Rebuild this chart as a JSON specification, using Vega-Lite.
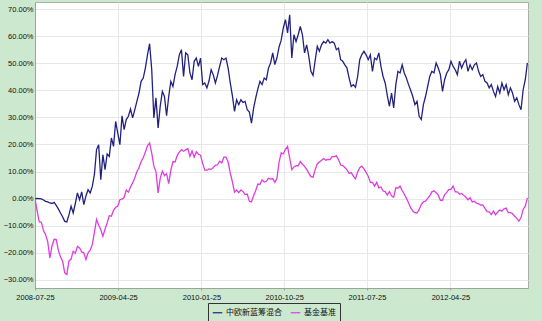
{
  "$schema": "https://vega.github.io/schema/vega-lite/v6.json",
  "width": 493,
  "height": 286,
  "autosize": "none",
  "padding": {"left": 35, "top": 2, "right": 14, "bottom": 33},
  "background": "#CCE8CF",
  "config": {
    "view": {"fill": "#FFFFFF", "stroke": "#A8B0A8", "strokeWidth": 1},
    "font": "Liberation Sans",
    "axis": {"labelFont": "Liberation Sans", "labelColor": "#111111", "labelFontSize": 7.5, "gridColor": "#E8E8E8", "gridWidth": 1, "domainColor": "#9AA69A", "tickColor": "#9AA69A"}
  },
  "data": {"values": [
    {"d":"2008-07-25","fund":0.0,"bench":0.0},
    {"d":"2008-08-01","fund":0.1,"bench":-4.5},
    {"d":"2008-08-08","fund":0.0,"bench":-8.5},
    {"d":"2008-08-15","fund":-0.1,"bench":-8.7},
    {"d":"2008-08-22","fund":-0.5,"bench":-11.8},
    {"d":"2008-08-29","fund":-1.0,"bench":-13.3},
    {"d":"2008-09-05","fund":-1.2,"bench":-16.0},
    {"d":"2008-09-12","fund":-1.6,"bench":-21.9},
    {"d":"2008-09-19","fund":-1.8,"bench":-17.5},
    {"d":"2008-09-26","fund":-1.4,"bench":-15.0},
    {"d":"2008-10-03","fund":-2.5,"bench":-15.1},
    {"d":"2008-10-10","fund":-3.8,"bench":-19.0},
    {"d":"2008-10-17","fund":-5.3,"bench":-21.5},
    {"d":"2008-10-24","fund":-6.7,"bench":-23.0},
    {"d":"2008-10-31","fund":-8.4,"bench":-27.4},
    {"d":"2008-11-07","fund":-8.6,"bench":-28.0},
    {"d":"2008-11-14","fund":-6.0,"bench":-23.0},
    {"d":"2008-11-21","fund":-2.8,"bench":-22.3},
    {"d":"2008-11-28","fund":-5.3,"bench":-19.4},
    {"d":"2008-12-05","fund":-1.8,"bench":-20.2},
    {"d":"2008-12-12","fund":2.1,"bench":-17.6},
    {"d":"2008-12-19","fund":-0.4,"bench":-18.2},
    {"d":"2008-12-26","fund":2.5,"bench":-19.7},
    {"d":"2009-01-02","fund":-2.2,"bench":-20.0},
    {"d":"2009-01-09","fund":1.0,"bench":-22.5},
    {"d":"2009-01-16","fund":3.3,"bench":-20.0},
    {"d":"2009-01-23","fund":2.1,"bench":-19.0},
    {"d":"2009-01-30","fund":4.5,"bench":-17.0},
    {"d":"2009-02-06","fund":9.0,"bench":-12.5},
    {"d":"2009-02-13","fund":18.1,"bench":-7.7},
    {"d":"2009-02-20","fund":19.9,"bench":-9.7},
    {"d":"2009-02-27","fund":7.0,"bench":-11.5},
    {"d":"2009-03-06","fund":16.2,"bench":-13.9},
    {"d":"2009-03-13","fund":10.7,"bench":-11.2},
    {"d":"2009-03-20","fund":16.5,"bench":-9.0},
    {"d":"2009-03-27","fund":15.6,"bench":-6.3},
    {"d":"2009-04-03","fund":22.4,"bench":-6.5},
    {"d":"2009-04-10","fund":19.3,"bench":-4.3},
    {"d":"2009-04-17","fund":28.5,"bench":-3.2},
    {"d":"2009-04-24","fund":24.2,"bench":-2.8},
    {"d":"2009-05-01","fund":19.9,"bench":-0.4},
    {"d":"2009-05-08","fund":30.6,"bench":-0.2},
    {"d":"2009-05-15","fund":25.5,"bench":0.4},
    {"d":"2009-05-22","fund":29.2,"bench":3.2},
    {"d":"2009-05-29","fund":30.4,"bench":2.4},
    {"d":"2009-06-05","fund":33.1,"bench":4.3},
    {"d":"2009-06-12","fund":29.8,"bench":5.8},
    {"d":"2009-06-19","fund":32.8,"bench":7.6},
    {"d":"2009-06-26","fund":35.9,"bench":9.9},
    {"d":"2009-07-03","fund":39.0,"bench":11.5},
    {"d":"2009-07-10","fund":43.3,"bench":13.6},
    {"d":"2009-07-17","fund":44.5,"bench":15.1},
    {"d":"2009-07-24","fund":48.2,"bench":17.2},
    {"d":"2009-07-31","fund":53.1,"bench":19.5},
    {"d":"2009-08-07","fund":57.2,"bench":20.5},
    {"d":"2009-08-14","fund":47.6,"bench":16.8},
    {"d":"2009-08-21","fund":29.8,"bench":12.0},
    {"d":"2009-08-28","fund":37.2,"bench":10.0},
    {"d":"2009-09-04","fund":26.1,"bench":2.1},
    {"d":"2009-09-11","fund":34.1,"bench":7.5},
    {"d":"2009-09-18","fund":39.6,"bench":10.2},
    {"d":"2009-09-25","fund":37.7,"bench":8.5},
    {"d":"2009-10-02","fund":30.6,"bench":9.2},
    {"d":"2009-10-09","fund":37.7,"bench":5.5},
    {"d":"2009-10-16","fund":43.3,"bench":10.5},
    {"d":"2009-10-23","fund":41.4,"bench":13.7},
    {"d":"2009-10-30","fund":45.8,"bench":13.5},
    {"d":"2009-11-06","fund":48.8,"bench":15.9},
    {"d":"2009-11-13","fund":53.1,"bench":17.2},
    {"d":"2009-11-20","fund":55.0,"bench":18.1},
    {"d":"2009-11-27","fund":45.1,"bench":17.5},
    {"d":"2009-12-04","fund":53.8,"bench":18.0},
    {"d":"2009-12-11","fund":53.1,"bench":18.5},
    {"d":"2009-12-18","fund":46.4,"bench":15.6},
    {"d":"2009-12-25","fund":43.9,"bench":17.6},
    {"d":"2010-01-01","fund":50.7,"bench":15.3},
    {"d":"2010-01-08","fund":51.9,"bench":17.3},
    {"d":"2010-01-15","fund":48.8,"bench":16.4},
    {"d":"2010-01-22","fund":51.9,"bench":16.0},
    {"d":"2010-01-29","fund":42.1,"bench":13.0},
    {"d":"2010-02-05","fund":42.7,"bench":10.5},
    {"d":"2010-02-12","fund":40.9,"bench":10.5},
    {"d":"2010-02-19","fund":43.5,"bench":11.0},
    {"d":"2010-02-26","fund":47.6,"bench":10.8},
    {"d":"2010-03-05","fund":45.7,"bench":11.5},
    {"d":"2010-03-12","fund":42.7,"bench":12.3},
    {"d":"2010-03-19","fund":45.5,"bench":12.5},
    {"d":"2010-03-26","fund":48.8,"bench":13.8},
    {"d":"2010-04-02","fund":51.9,"bench":13.2},
    {"d":"2010-04-09","fund":51.3,"bench":15.3},
    {"d":"2010-04-16","fund":51.9,"bench":15.3},
    {"d":"2010-04-23","fund":48.2,"bench":13.5},
    {"d":"2010-04-30","fund":42.7,"bench":9.5},
    {"d":"2010-05-07","fund":38.0,"bench":6.2},
    {"d":"2010-05-14","fund":32.2,"bench":2.4},
    {"d":"2010-05-21","fund":36.5,"bench":3.2},
    {"d":"2010-05-28","fund":34.7,"bench":2.2},
    {"d":"2010-06-04","fund":36.5,"bench":3.2},
    {"d":"2010-06-11","fund":35.5,"bench":2.6},
    {"d":"2010-06-18","fund":35.9,"bench":1.5},
    {"d":"2010-06-25","fund":32.8,"bench":1.7},
    {"d":"2010-07-02","fund":32.0,"bench":-1.0},
    {"d":"2010-07-09","fund":27.9,"bench":-1.2},
    {"d":"2010-07-16","fund":33.4,"bench":1.1},
    {"d":"2010-07-23","fund":37.2,"bench":3.0},
    {"d":"2010-07-30","fund":40.5,"bench":5.4},
    {"d":"2010-08-06","fund":43.3,"bench":5.3},
    {"d":"2010-08-13","fund":42.1,"bench":6.9},
    {"d":"2010-08-20","fund":44.5,"bench":6.1},
    {"d":"2010-08-27","fund":43.9,"bench":6.4},
    {"d":"2010-09-03","fund":48.2,"bench":7.5},
    {"d":"2010-09-10","fund":50.1,"bench":7.2},
    {"d":"2010-09-17","fund":53.8,"bench":7.4},
    {"d":"2010-09-24","fund":49.5,"bench":6.0},
    {"d":"2010-10-01","fund":52.0,"bench":7.5},
    {"d":"2010-10-08","fund":56.0,"bench":13.5},
    {"d":"2010-10-15","fund":58.5,"bench":16.9},
    {"d":"2010-10-22","fund":63.0,"bench":16.5},
    {"d":"2010-10-29","fund":66.1,"bench":18.2},
    {"d":"2010-11-05","fund":61.2,"bench":19.3},
    {"d":"2010-11-12","fund":67.9,"bench":15.0},
    {"d":"2010-11-19","fund":51.9,"bench":10.7},
    {"d":"2010-11-26","fund":60.5,"bench":11.7},
    {"d":"2010-12-03","fund":58.0,"bench":12.2},
    {"d":"2010-12-10","fund":60.5,"bench":12.1},
    {"d":"2010-12-17","fund":63.6,"bench":13.7},
    {"d":"2010-12-24","fund":60.5,"bench":12.7},
    {"d":"2010-12-31","fund":53.8,"bench":11.9},
    {"d":"2011-01-07","fund":56.8,"bench":10.8},
    {"d":"2011-01-14","fund":52.5,"bench":9.4},
    {"d":"2011-01-21","fund":47.0,"bench":8.1},
    {"d":"2011-01-28","fund":45.5,"bench":7.9},
    {"d":"2011-02-04","fund":51.0,"bench":10.7},
    {"d":"2011-02-11","fund":56.2,"bench":12.8},
    {"d":"2011-02-18","fund":54.4,"bench":13.5},
    {"d":"2011-02-25","fund":56.8,"bench":14.2},
    {"d":"2011-03-04","fund":58.0,"bench":14.8},
    {"d":"2011-03-11","fund":57.4,"bench":14.2},
    {"d":"2011-03-18","fund":58.7,"bench":14.5},
    {"d":"2011-03-25","fund":57.4,"bench":14.4},
    {"d":"2011-04-01","fund":58.0,"bench":15.5},
    {"d":"2011-04-08","fund":57.4,"bench":15.5},
    {"d":"2011-04-15","fund":55.0,"bench":15.8},
    {"d":"2011-04-22","fund":55.6,"bench":14.4},
    {"d":"2011-04-29","fund":51.3,"bench":12.4},
    {"d":"2011-05-06","fund":50.7,"bench":12.2},
    {"d":"2011-05-13","fund":49.4,"bench":11.5},
    {"d":"2011-05-20","fund":48.2,"bench":10.6},
    {"d":"2011-05-27","fund":44.5,"bench":9.3},
    {"d":"2011-06-03","fund":41.4,"bench":9.6},
    {"d":"2011-06-10","fund":42.1,"bench":8.3},
    {"d":"2011-06-17","fund":41.1,"bench":7.3},
    {"d":"2011-06-24","fund":45.0,"bench":9.8},
    {"d":"2011-07-01","fund":51.3,"bench":11.4},
    {"d":"2011-07-08","fund":53.2,"bench":12.0},
    {"d":"2011-07-15","fund":54.4,"bench":11.0},
    {"d":"2011-07-22","fund":53.1,"bench":9.7},
    {"d":"2011-07-29","fund":51.3,"bench":8.3},
    {"d":"2011-08-05","fund":53.1,"bench":6.0},
    {"d":"2011-08-12","fund":47.0,"bench":6.0},
    {"d":"2011-08-19","fund":51.9,"bench":4.6},
    {"d":"2011-08-26","fund":51.3,"bench":6.0},
    {"d":"2011-09-02","fund":53.8,"bench":4.0},
    {"d":"2011-09-09","fund":48.8,"bench":4.3},
    {"d":"2011-09-16","fund":45.1,"bench":2.8},
    {"d":"2011-09-23","fund":42.7,"bench":2.6},
    {"d":"2011-09-30","fund":38.0,"bench":1.3},
    {"d":"2011-10-07","fund":34.1,"bench":2.6},
    {"d":"2011-10-14","fund":39.0,"bench":1.0},
    {"d":"2011-10-21","fund":33.5,"bench":0.5},
    {"d":"2011-10-28","fund":42.0,"bench":4.0},
    {"d":"2011-11-04","fund":47.0,"bench":3.9},
    {"d":"2011-11-11","fund":46.4,"bench":4.6},
    {"d":"2011-11-18","fund":49.4,"bench":3.0},
    {"d":"2011-11-25","fund":46.4,"bench":1.6},
    {"d":"2011-12-02","fund":44.5,"bench":0.1},
    {"d":"2011-12-09","fund":42.1,"bench":-1.5},
    {"d":"2011-12-16","fund":40.0,"bench":-3.4},
    {"d":"2011-12-23","fund":37.7,"bench":-4.6},
    {"d":"2011-12-30","fund":34.7,"bench":-5.2},
    {"d":"2012-01-06","fund":35.9,"bench":-5.3},
    {"d":"2012-01-13","fund":30.4,"bench":-4.0},
    {"d":"2012-01-20","fund":29.2,"bench":-2.2},
    {"d":"2012-01-27","fund":34.7,"bench":-1.1},
    {"d":"2012-02-03","fund":37.7,"bench":-0.9},
    {"d":"2012-02-10","fund":41.4,"bench":0.1},
    {"d":"2012-02-17","fund":45.1,"bench":1.0},
    {"d":"2012-02-24","fund":47.0,"bench":2.5},
    {"d":"2012-03-02","fund":46.4,"bench":2.9},
    {"d":"2012-03-09","fund":50.1,"bench":2.2},
    {"d":"2012-03-16","fund":48.2,"bench":1.3},
    {"d":"2012-03-23","fund":45.8,"bench":-0.6},
    {"d":"2012-03-30","fund":39.6,"bench":-0.6},
    {"d":"2012-04-06","fund":43.9,"bench":1.5},
    {"d":"2012-04-13","fund":46.4,"bench":2.3},
    {"d":"2012-04-20","fund":47.6,"bench":3.4},
    {"d":"2012-04-27","fund":50.7,"bench":3.4},
    {"d":"2012-05-04","fund":48.8,"bench":4.7},
    {"d":"2012-05-11","fund":47.6,"bench":2.5},
    {"d":"2012-05-18","fund":45.8,"bench":2.5},
    {"d":"2012-05-25","fund":50.7,"bench":1.6},
    {"d":"2012-06-01","fund":48.2,"bench":1.9},
    {"d":"2012-06-08","fund":50.1,"bench":1.2},
    {"d":"2012-06-15","fund":51.3,"bench":0.5},
    {"d":"2012-06-22","fund":47.0,"bench":-0.4},
    {"d":"2012-06-29","fund":49.4,"bench":0.3},
    {"d":"2012-07-06","fund":47.6,"bench":-1.2},
    {"d":"2012-07-13","fund":49.4,"bench":-1.0},
    {"d":"2012-07-20","fund":50.1,"bench":-1.7},
    {"d":"2012-07-27","fund":47.0,"bench":-1.9},
    {"d":"2012-08-03","fund":45.1,"bench":-2.4},
    {"d":"2012-08-10","fund":45.8,"bench":-2.3},
    {"d":"2012-08-17","fund":43.3,"bench":-3.6},
    {"d":"2012-08-24","fund":42.7,"bench":-4.8},
    {"d":"2012-08-31","fund":40.9,"bench":-4.9},
    {"d":"2012-09-07","fund":42.1,"bench":-5.9},
    {"d":"2012-09-14","fund":39.6,"bench":-4.6},
    {"d":"2012-09-21","fund":37.7,"bench":-6.0},
    {"d":"2012-09-28","fund":41.4,"bench":-4.9},
    {"d":"2012-10-05","fund":39.0,"bench":-4.2},
    {"d":"2012-10-12","fund":42.7,"bench":-4.6},
    {"d":"2012-10-19","fund":40.2,"bench":-3.8},
    {"d":"2012-10-26","fund":42.1,"bench":-3.5},
    {"d":"2012-11-02","fund":38.4,"bench":-5.2},
    {"d":"2012-11-09","fund":40.9,"bench":-5.2},
    {"d":"2012-11-16","fund":39.0,"bench":-5.5},
    {"d":"2012-11-23","fund":35.9,"bench":-6.5},
    {"d":"2012-11-30","fund":37.2,"bench":-7.3},
    {"d":"2012-12-07","fund":34.7,"bench":-8.3},
    {"d":"2012-12-14","fund":32.8,"bench":-7.0},
    {"d":"2012-12-21","fund":40.2,"bench":-4.0},
    {"d":"2012-12-28","fund":43.9,"bench":-2.8},
    {"d":"2013-01-04","fund":50.1,"bench":0.3}
  ]},
  "transform": [{"fold": ["fund", "bench"], "as": ["series", "value"]}],
  "mark": {"type": "line", "strokeWidth": 1.3, "clip": true},
  "encoding": {
    "x": {
      "field": "d", "type": "temporal",
      "scale": {"type": "utc", "domain": [{"year": 2008, "month": 7, "date": 25, "utc": true}, {"year": 2013, "month": 1, "date": 6, "utc": true}], "nice": false},
      "axis": {
        "title": null,
        "labelExpr": "utcFormat(datum.value, '%Y-%m-%d')",
        "values": [
          {"year": 2008, "month": 7, "date": 25, "utc": true},
          {"year": 2009, "month": 4, "date": 25, "utc": true},
          {"year": 2010, "month": 1, "date": 25, "utc": true},
          {"year": 2010, "month": 10, "date": 25, "utc": true},
          {"year": 2011, "month": 7, "date": 25, "utc": true},
          {"year": 2012, "month": 4, "date": 25, "utc": true}
        ],
        "grid": true, "tickSize": 2, "labelPadding": 3, "labelOverlap": false, "labelFlush": false
      }
    },
    "y": {
      "field": "value", "type": "quantitative",
      "scale": {"domain": [-33, 72.6], "nice": false, "zero": false},
      "axis": {
        "title": null, "values": [-30, -20, -10, 0, 10, 20, 30, 40, 50, 60, 70],
        "labelExpr": "format(datum.value, '.2f') + '%'",
        "grid": true, "tickSize": 0, "labelPadding": 2
      }
    },
    "color": {
      "field": "series", "type": "nominal",
      "scale": {"domain": ["fund", "bench"], "range": ["#22227E", "#E03CE0"]},
      "legend": {
        "title": null, "orient": "none", "legendX": 173, "legendY": 301,
        "direction": "horizontal",
        "labelExpr": "datum.label == 'fund' ? '中欧新蓝筹混合' : '基金基准'",
        "labelFont": "Noto Sans CJK SC", "labelFontSize": 8, "labelColor": "#111111",
        "symbolType": "stroke", "symbolSize": 90, "symbolStrokeWidth": 1.2,
        "strokeColor": "#333333", "fillColor": "#CCE8CF", "padding": 4,
        "columnPadding": 6, "labelOffset": 3
      }
    }
  }
}
